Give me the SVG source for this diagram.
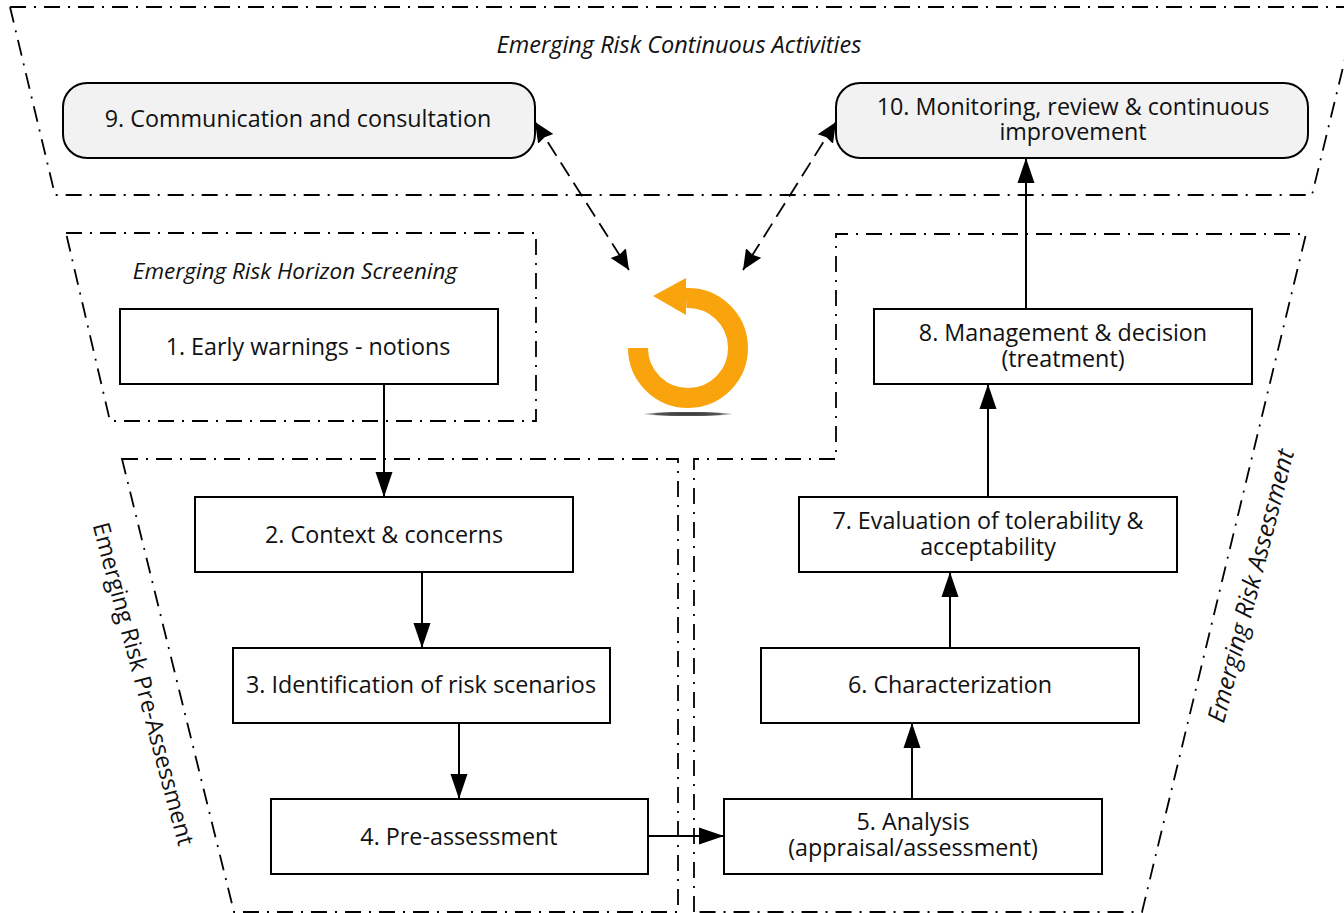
<svg xmlns="http://www.w3.org/2000/svg" width="1344" height="913" viewBox="0 0 1344 913">
<style>
.zone{fill:none;stroke:#000;stroke-width:1.8;stroke-dasharray:16 8 2 8}
.box{fill:#fff;stroke:#000;stroke-width:2}
.soft{fill:#f2f2f2;stroke:#000;stroke-width:2}
text{font-family:"Open Sans","Noto Sans",sans-serif;font-size:23.3px;fill:#111;text-anchor:middle}
.it{font-style:italic}
.c{fill:none;stroke:#000;stroke-width:2}
.d{fill:none;stroke:#000;stroke-width:1.8;stroke-dasharray:16 8}
</style>
<defs>
<marker id="a" markerUnits="userSpaceOnUse" markerWidth="26" markerHeight="20" refX="25" refY="10" orient="auto"><path d="M0 1.500L25 10L0 18.500Z" fill="#000"/></marker>
<marker id="b" markerUnits="userSpaceOnUse" markerWidth="22" markerHeight="20" refX="20" refY="10" orient="auto-start-reverse"><path d="M0 1L20 10L0 19L2 10Z" fill="#000"/></marker>
<radialGradient id="sh"><stop offset="0" stop-color="#333"/><stop offset="0.7" stop-color="#555"/><stop offset="1" stop-color="#888" stop-opacity="0"/></radialGradient>
</defs>
<g id="zones">
<path class="zone" d="M10 7H1344M10 7L55 195H1312L1346 55"/>
<path class="zone" d="M66 233H536V421H110Z"/>
<path class="zone" d="M122 459H678V912H234Z"/>
<path class="zone" d="M694 912V459H836V234H1306L1142 912Z"/>
</g>
<g id="zone-labels">
<text class="it" x="679" y="53" style="font-size:23.500px">Emerging Risk Continuous Activities</text>
<text class="it" x="295" y="279" style="font-size:22.500px">Emerging Risk Horizon Screening</text>
<text transform="translate(135.500,686) rotate(75)" style="font-size:23.400px">Emerging Risk Pre-Assessment</text>
<text class="it" transform="translate(1259,588) rotate(-75.500)" style="font-size:24.500px">Emerging Risk Assessment</text>
</g>
<g id="nodes">
<g id="n9"><rect class="soft" x="63" y="83" width="472" height="75" rx="24"/><text x="298" y="127">9. Communication and consultation</text></g>
<g id="n10"><rect class="soft" x="836" y="83" width="472" height="75" rx="24"/><text x="1073" y="115">10. Monitoring, review &amp; continuous</text><text x="1073" y="140">improvement</text></g>
<g id="n1"><rect class="box" x="120" y="309" width="378" height="75"/><text x="308" y="355">1. Early warnings - notions</text></g>
<g id="n2"><rect class="box" x="195" y="497" width="378" height="75"/><text x="384" y="543">2. Context &amp; concerns</text></g>
<g id="n3"><rect class="box" x="233" y="648" width="377" height="75"/><text x="421" y="693">3. Identification of risk scenarios</text></g>
<g id="n4"><rect class="box" x="271" y="799" width="377" height="75"/><text x="459" y="845">4. Pre-assessment</text></g>
<g id="n5"><rect class="box" x="724" y="799" width="378" height="75"/><text x="913" y="830">5. Analysis</text><text x="913" y="856">(appraisal/assessment)</text></g>
<g id="n6"><rect class="box" x="761" y="648" width="378" height="75"/><text x="950" y="693">6. Characterization</text></g>
<g id="n7"><rect class="box" x="799" y="497" width="378" height="75"/><text x="988" y="529">7. Evaluation of tolerability &amp;</text><text x="988" y="555">acceptability</text></g>
<g id="n8"><rect class="box" x="874" y="309" width="378" height="75"/><text x="1063" y="341">8. Management &amp; decision</text><text x="1063" y="367">(treatment)</text></g>
</g>
<g id="connectors">
<path class="c" marker-end="url(#a)" d="M384 384V497"/>
<path class="c" marker-end="url(#a)" d="M422 572V648"/>
<path class="c" marker-end="url(#a)" d="M459 723V799"/>
<path class="c" marker-end="url(#a)" d="M648 836H724"/>
<path class="c" marker-end="url(#a)" d="M912 799V723"/>
<path class="c" marker-end="url(#a)" d="M950 648V572"/>
<path class="c" marker-end="url(#a)" d="M988 497V384"/>
<path class="c" marker-end="url(#a)" d="M1026 309V158"/>
<path class="d" marker-start="url(#b)" marker-end="url(#b)" d="M535 122L629 270"/>
<path class="d" marker-start="url(#b)" marker-end="url(#b)" d="M836 122L743 270"/>
</g>
<g id="cycle">
<ellipse cx="688" cy="414" rx="46" ry="2.500" fill="url(#sh)"/>
<path d="M638 348A50 50 0 1 0 686 298" fill="none" stroke="#f9a40d" stroke-width="20"/>
<path d="M653 296L686 278V315Z" fill="#f9a40d"/>
</g>
</svg>
